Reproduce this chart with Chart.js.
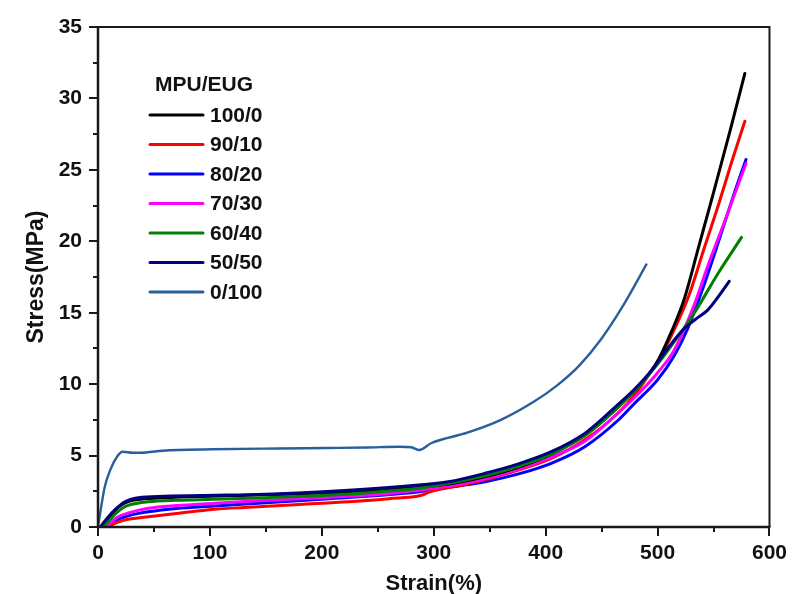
<!DOCTYPE html>
<html>
<head>
<meta charset="utf-8">
<script src="https://cdn.jsdelivr.net/npm/chart.js@4/dist/chart.umd.min.js"></script>
<style>
html,body{margin:0;padding:0;background:#fff;}
#wrap{width:792px;height:594px;}
</style>
</head>
<body>
<div id="wrap"><canvas id="c" width="792" height="594"></canvas></div>
<script>
// ---- data ----
const seriesLabels = ['100/0','90/10','80/20','70/30','60/40','50/50','0/100'];
const seriesColors = ['#000000','#ff0000','#0000ff','#ff00ff','#008000','#000080','#2a5f9e'];

const strain_100_0 = [3, 9, 15, 22, 32, 50, 100, 150, 200, 250, 290, 320, 350, 380, 405, 435, 465, 485, 500, 512, 524, 536, 550, 565, 578];
const stress_100_0 = [0, 0.6, 1.15, 1.6, 1.88, 2.02, 2.15, 2.25, 2.38, 2.6, 2.8, 3.1, 3.6, 4.3, 5.1, 6.4, 8.4, 10.0, 11.6, 13.6, 16.0, 19.4, 23.4, 27.8, 31.75];

const strain_90_10 = [9, 15, 22, 32, 45, 70, 104, 135, 180, 224, 260, 289, 296, 330, 370, 405, 435, 465, 480, 495, 506, 516, 528, 542, 555, 566, 578];
const stress_90_10 = [0, 0.25, 0.45, 0.6, 0.72, 0.95, 1.24, 1.38, 1.58, 1.77, 1.98, 2.22, 2.45, 3.0, 3.85, 4.8, 6.1, 8.0, 9.3, 11.0, 12.4, 14.0, 16.2, 19.6, 22.7, 25.5, 28.4];

const strain_80_20 = [6, 12, 20, 30, 45, 70, 104, 150, 200, 250, 287, 320, 346, 375, 405, 435, 465, 480, 500, 515, 527, 540, 555, 567, 579];
const stress_80_20 = [0, 0.3, 0.6, 0.85, 1.07, 1.3, 1.47, 1.7, 1.95, 2.2, 2.47, 2.85, 3.17, 3.7, 4.46, 5.62, 7.49, 8.7, 10.3, 12.0, 13.9, 16.6, 20.1, 23.0, 25.73];

const strain_70_30 = [6, 12, 18, 28, 45, 70, 104, 135, 180, 224, 260, 290, 330, 370, 405, 435, 465, 485, 500, 515, 533, 545, 560, 579];
const stress_70_30 = [0, 0.35, 0.72, 1.0, 1.31, 1.5, 1.66, 1.8, 1.98, 2.15, 2.35, 2.6, 3.1, 3.9, 4.9, 6.0, 8.0, 9.5, 10.8, 12.4, 15.6, 18.3, 21.4, 25.45];

const strain_60_40 = [4, 10, 16, 24, 34, 45, 70, 104, 150, 200, 250, 290, 330, 370, 405, 435, 465, 485, 503, 518, 533, 554, 575];
const stress_60_40 = [0, 0.45, 0.95, 1.42, 1.65, 1.77, 1.87, 1.94, 2.05, 2.2, 2.45, 2.75, 3.3, 4.1, 5.1, 6.4, 8.4, 10.0, 11.7, 13.3, 15.0, 17.75, 20.27];

const strain_50_50 = [2, 8, 15, 24, 36, 59, 104, 135, 224, 284, 313, 346, 375, 405, 435, 465, 480, 495, 510, 524, 535, 545, 555, 564];
const stress_50_50 = [0, 0.6, 1.2, 1.77, 2.05, 2.15, 2.22, 2.26, 2.58, 2.92, 3.17, 3.76, 4.4, 5.27, 6.55, 8.6, 9.7, 11.0, 12.6, 13.9, 14.6, 15.2, 16.2, 17.2];

const strain_0_100 = [0, 2, 6, 11, 17, 22, 31, 43, 58, 102, 162, 204, 240, 269, 280, 287, 298, 330, 360, 390, 410, 430, 450, 470, 490];
const stress_0_100 = [0, 1.0, 2.8, 4.0, 4.92, 5.27, 5.2, 5.22, 5.34, 5.44, 5.5, 5.53, 5.56, 5.62, 5.58, 5.39, 5.88, 6.6, 7.5, 8.8, 9.9, 11.3, 13.2, 15.6, 18.38];

const xTickLabels = ['0','100','200','300','400','500','600'];
const yTickLabels = ['0','5','10','15','20','25','30','35'];
const legendTitle = 'MPU/EUG';

const strains = [strain_100_0, strain_90_10, strain_80_20, strain_70_30, strain_60_40, strain_50_50, strain_0_100];
const stresses = [stress_100_0, stress_90_10, stress_80_20, stress_70_30, stress_60_40, stress_50_50, stress_0_100];
const drawOrder = [2, 4, 5, 3, 1, 0, 6];
const widths = [3, 3, 3, 3, 3, 3, 2.4];

const FONT = '"Liberation Sans", Arial, Helvetica, sans-serif';

const datasets = seriesLabels.map((lab, i) => ({
  label: lab,
  data: strains[i].map((s, k) => ({x: s, y: stresses[i][k]})),
  borderColor: seriesColors[i],
  backgroundColor: seriesColors[i],
  borderWidth: widths[i],
  pointRadius: 0,
  fill: false,
  cubicInterpolationMode: 'monotone',
  borderCapStyle: 'round',
  borderJoinStyle: 'round',
  order: drawOrder[i]
}));

const framePlugin = {
  id: 'frameTicks',
  afterDraw(chart) {
    const {ctx, chartArea: a, scales: {x, y}} = chart;
    ctx.save();
    ctx.strokeStyle = '#1a1a1a';
    ctx.lineCap = 'butt';
    ctx.lineWidth = 2;
    ctx.beginPath();
    ctx.moveTo(a.left, a.top); ctx.lineTo(a.right, a.top); ctx.lineTo(a.right, a.bottom);
    ctx.stroke();
    ctx.lineWidth = 2.5;
    ctx.beginPath();
    ctx.moveTo(a.left, a.top - 1); ctx.lineTo(a.left, a.bottom); ctx.lineTo(a.right + 1, a.bottom);
    ctx.stroke();
    ctx.lineWidth = 2;
    ctx.beginPath();
    for (let v = x.min; v <= x.max; v += 50) {
      const px = Math.round(x.getPixelForValue(v));
      const len = (v % 100 === 0) ? 9 : 5;
      ctx.moveTo(px, a.bottom); ctx.lineTo(px, a.bottom + len);
    }
    for (let v = y.min; v <= y.max; v += 2.5) {
      const py = Math.round(y.getPixelForValue(v));
      const len = (v % 5 === 0) ? 9 : 5;
      ctx.moveTo(a.left, py); ctx.lineTo(a.left - len, py);
    }
    ctx.stroke();
    ctx.restore();
  }
};

const legendPlugin = {
  id: 'innerLegend',
  afterDraw(chart) {
    const {ctx, chartArea: a} = chart;
    ctx.save();
    ctx.fillStyle = '#111';
    ctx.textBaseline = 'middle';
    ctx.font = 'bold 21px ' + FONT;
    ctx.textAlign = 'left';
    ctx.fillText(legendTitle, a.left + 57, a.top + 58);
    chart.data.datasets.forEach((ds, i) => {
      const yy = a.top + 88 + i * 29.5;
      ctx.strokeStyle = ds.borderColor;
      ctx.lineWidth = 3;
      ctx.lineCap = 'round';
      ctx.beginPath();
      ctx.moveTo(a.left + 52, yy); ctx.lineTo(a.left + 105, yy);
      ctx.stroke();
      ctx.fillStyle = '#111';
      ctx.fillText(ds.label, a.left + 112, yy + 1);
    });
    ctx.restore();
  }
};

new Chart(document.getElementById('c'), {
  type: 'line',
  data: {datasets},
  options: {
    responsive: false,
    animation: false,
    devicePixelRatio: 1,
    layout: {padding: {top: 27, right: 20, left: 0, bottom: 0}},
    plugins: {legend: {display: false}, tooltip: {enabled: false}},
    scales: {
      x: {
        type: 'linear', min: 0, max: 600,
        afterFit: s => { s.height = 67; },
        border: {display: false},
        grid: {display: true, drawOnChartArea: false, drawTicks: true, tickLength: 9, color: 'rgba(0,0,0,0)', tickColor: 'rgba(0,0,0,0)'},
        ticks: {
          stepSize: 100, padding: 5, color: '#111', maxRotation: 0,
          font: {family: FONT, size: 21, weight: 'bold'},
          callback: (v) => xTickLabels[v / 100] ?? ''
        },
        title: {display: true, text: 'Strain(%)', color: '#111', font: {family: FONT, size: 22, weight: 'bold'}, padding: {top: 0, bottom: -3}}
      },
      y: {
        type: 'linear', min: 0, max: 35,
        afterFit: s => { s.width = 98; },
        border: {display: false},
        grid: {display: true, drawOnChartArea: false, drawTicks: true, tickLength: 9, color: 'rgba(0,0,0,0)', tickColor: 'rgba(0,0,0,0)'},
        ticks: {
          stepSize: 5, padding: 7, color: '#111',
          font: {family: FONT, size: 21, weight: 'bold'},
          callback: (v) => yTickLabels[v / 5] ?? ''
        },
        title: {display: true, text: 'Stress(MPa)', color: '#111', font: {family: FONT, size: 23, weight: 'bold'}, padding: {top: 23, bottom: 0}}
      }
    }
  },
  plugins: [framePlugin, legendPlugin]
});
</script>
</body>
</html>
